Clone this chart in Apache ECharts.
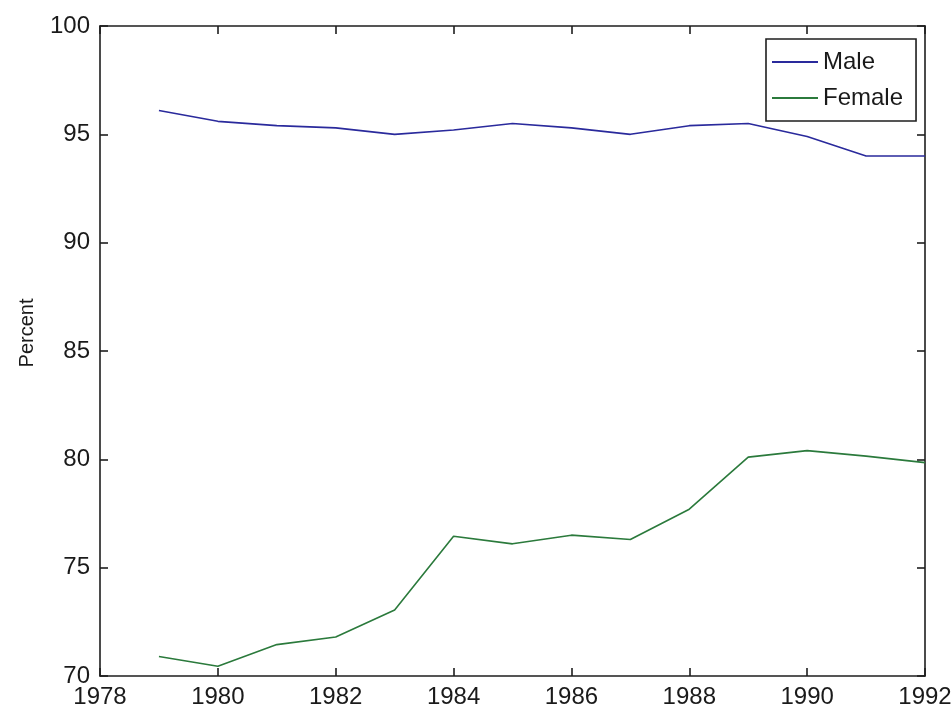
<!DOCTYPE html>
<html>
<head>
<meta charset="utf-8">
<script src="https://cdn.jsdelivr.net/npm/echarts@6/dist/echarts.min.js"></script>
<style>
  html, body { margin: 0; padding: 0; background: #ffffff; }
  #chart { width: 952px; height: 706px; }
</style>
</head>
<body>
<div id="chart"></div>
<script>
// Share of each sex, by year
const years = [1979, 1980, 1981, 1982, 1983, 1984, 1985, 1986, 1987, 1988, 1989, 1990, 1991, 1992];
const male = [96.1, 95.6, 95.4, 95.3, 95.0, 95.2, 95.5, 95.3, 95.0, 95.4, 95.5, 94.9, 94.0, 94.0];
const female = [70.9, 70.45, 71.45, 71.8, 73.05, 76.45, 76.1, 76.5, 76.3, 77.7, 80.1, 80.4, 80.15, 79.85];
const seriesNames = ['Male', 'Female'];
const yTicks = [70, 75, 80, 85, 90, 95, 100];
const xTicks = [1978, 1980, 1982, 1984, 1986, 1988, 1990, 1992];

const FONT = 'Liberation Sans, Arial, sans-serif';
const AXIS_COLOR = '#1e1e1e';
const axisLine = { show: true, lineStyle: { color: AXIS_COLOR, width: 1.6 } };
const innerTick = { show: true, inside: true, length: 8, lineStyle: { color: AXIS_COLOR, width: 1.6 } };

function xAxisOf(position, withLabels) {
  return {
    type: 'value',
    position: position,
    min: xTicks[0],
    max: xTicks[xTicks.length - 1],
    interval: 2,
    axisLine: axisLine,
    axisTick: innerTick,
    splitLine: { show: false },
    axisLabel: withLabels
      ? { show: true, fontFamily: FONT, fontSize: 24, color: '#1a1a1a', margin: 9,
          formatter: v => String(v) }
      : { show: false }
  };
}

function yAxisOf(position, withLabels) {
  const ax = {
    type: 'value',
    position: position,
    min: yTicks[0],
    max: yTicks[yTicks.length - 1],
    interval: 5,
    axisLine: axisLine,
    axisTick: innerTick,
    splitLine: { show: false },
    axisLabel: withLabels
      ? { show: true, fontFamily: FONT, fontSize: 24, color: '#1a1a1a', margin: 10 }
      : { show: false }
  };
  if (withLabels) {
    ax.name = 'Percent';
    ax.nameLocation = 'middle';
    ax.nameGap = 63;
    ax.nameRotate = 90;
    // left padding lifts the rotated title a little above the axis centre
    ax.nameTextStyle = { fontFamily: FONT, fontSize: 20, color: '#1a1a1a', padding: [0, 0, 0, 36] };
  }
  return ax;
}

const colors = ['#2a2a9c', '#2b7a3c'];

const chart = echarts.init(document.getElementById('chart'), null, { renderer: 'canvas' });
chart.setOption({
  backgroundColor: '#ffffff',
  animation: false,
  grid: { left: 100, right: 27, top: 26, bottom: 30, containLabel: false, outerBoundsMode: 'none' },
  xAxis: [xAxisOf('bottom', true), xAxisOf('top', false)],
  yAxis: [yAxisOf('left', true), yAxisOf('right', false)],
  legend: {
    left: 766,
    top: 39,
    orient: 'vertical',
    backgroundColor: '#ffffff',
    borderColor: AXIS_COLOR,
    borderWidth: 1.6,
    borderRadius: 0,
    padding: [11, 13, 11, 6],
    itemGap: 12,
    itemWidth: 46,
    itemHeight: 2,
    icon: 'rect',
    textStyle: { fontFamily: FONT, fontSize: 24, lineHeight: 24, color: '#1a1a1a' },
    data: seriesNames
  },
  series: [
    {
      name: seriesNames[0],
      type: 'line',
      xAxisIndex: 0,
      yAxisIndex: 0,
      data: years.map((y, i) => [y, male[i]]),
      symbol: 'none',
      color: colors[0],
      lineStyle: { color: colors[0], width: 1.6 }
    },
    {
      name: seriesNames[1],
      type: 'line',
      xAxisIndex: 0,
      yAxisIndex: 0,
      data: years.map((y, i) => [y, female[i]]),
      symbol: 'none',
      color: colors[1],
      lineStyle: { color: colors[1], width: 1.6 }
    }
  ]
});
</script>
</body>
</html>
